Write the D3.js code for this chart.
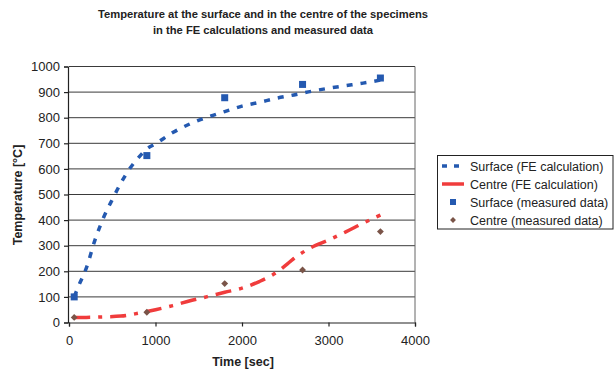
<!DOCTYPE html>
<html><head><meta charset="utf-8">
<script src="https://cdn.jsdelivr.net/npm/d3@7"></script>
<style>body{margin:0;background:#fff}svg{display:block}</style>
</head><body>
<svg id="c" width="614" height="370"></svg>
<script>
const xTicks = [0, 1000, 2000, 3000, 4000];
const yTicks = [0, 100, 200, 300, 400, 500, 600, 700, 800, 900, 1000];

const surfFE_t = [60, 120, 200, 300, 400, 500, 600, 700, 800, 900, 1000, 1200, 1400, 1600, 1800, 2000, 2200, 2400, 2600, 2800, 3000, 3200, 3400, 3600];
const surfFE_T = [100, 150, 212, 322, 410, 480, 545, 600, 643, 678, 698, 742, 776, 802, 824, 845, 860, 876, 889, 903, 915, 925, 935, 947];

const centFE_t = [60, 200, 400, 600, 800, 1000, 1200, 1400, 1600, 1800, 2000, 2200, 2400, 2500, 2600, 2800, 3000, 3200, 3400, 3600];
const centFE_T = [20, 20, 22, 25, 36, 50, 66, 85, 101, 118, 134, 160, 196, 222, 250, 293, 322, 354, 388, 420];

const surfMeas_t = [60, 900, 1800, 2700, 3600];
const surfMeas_T = [100, 652, 878, 930, 955];

const centMeas_t = [60, 900, 1800, 2700, 3600];
const centMeas_T = [20, 40, 152, 205, 355];

const legendLabels = ["Surface (FE calculation)", "Centre (FE calculation)", "Surface (measured data)", "Centre (measured data)"];

const blue = "#2459b0", red = "#f03c3c", brown = "#7a5448";
const svg = d3.select("#c");
const x = d3.scaleLinear().domain([0, 4000]).range([69, 415]);
const y = d3.scaleLinear().domain([0, 1000]).range([322.5, 66.5]);
const font = "Liberation Sans, Arial, sans-serif";

// title
svg.append("text").attr("x", 263).attr("y", 18).attr("text-anchor", "middle")
  .attr("font-family", font).attr("font-weight", "bold").attr("font-size", 11.2).attr("fill", "#222")
  .text("Temperature at the surface and in the centre of the specimens");
svg.append("text").attr("x", 263).attr("y", 34).attr("text-anchor", "middle")
  .attr("font-family", font).attr("font-weight", "bold").attr("font-size", 11.2).attr("fill", "#222")
  .text("in the FE calculations and measured data");

// grid
svg.append("g").selectAll("line").data(yTicks.filter(d => d > 0)).join("line")
  .attr("x1", x(0)).attr("x2", x(4000)).attr("y1", d => y(d)).attr("y2", d => y(d))
  .attr("stroke", "#3a3a3a").attr("stroke-width", 1);
// right border
svg.append("line").attr("x1", x(4000)).attr("x2", x(4000)).attr("y1", y(1000)).attr("y2", y(0))
  .attr("stroke", "#666").attr("stroke-width", 1);

// axes
const yAxis = svg.append("g").attr("transform", `translate(${x(0) - 1},0)`)
  .call(d3.axisLeft(y).tickValues(yTicks).tickSize(4).tickPadding(4).tickFormat(d3.format("d")));
const xAxis = svg.append("g").attr("transform", `translate(0,${y(0)})`)
  .call(d3.axisBottom(x).tickValues(xTicks).tickSize(4).tickPadding(9).tickFormat(d3.format("d")));
[yAxis, xAxis].forEach(a => {
  a.selectAll("path,line").attr("stroke", "#222").attr("stroke-width", 1.2);
  a.selectAll("text").attr("font-family", font).attr("font-size", 13).attr("fill", "#222");
});

// axis titles
svg.append("text").attr("transform", "translate(22,195) rotate(-90)").attr("text-anchor", "middle")
  .attr("font-family", font).attr("font-weight", "bold").attr("font-size", 12.5).attr("fill", "#222")
  .text("Temperature [°C]");
svg.append("text").attr("x", 243).attr("y", 366).attr("text-anchor", "middle")
  .attr("font-family", font).attr("font-weight", "bold").attr("font-size", 12.5).attr("fill", "#222")
  .text("Time [sec]");

// lines
const line = d3.line().curve(d3.curveMonotoneX).x(d => x(d[0])).y(d => y(d[1]));
svg.append("path").datum(surfFE_t.map((t, i) => [t, surfFE_T[i]]))
  .attr("d", line).attr("fill", "none").attr("stroke", blue).attr("stroke-width", 3.5)
  .attr("stroke-dasharray", "6,8");
svg.append("path").datum(centFE_t.map((t, i) => [t, centFE_T[i]]))
  .attr("d", line).attr("fill", "none").attr("stroke", red).attr("stroke-width", 3.5)
  .attr("stroke-dasharray", "16,8,4,8");

// measured points
svg.append("g").selectAll("rect").data(surfMeas_t.map((t, i) => [t, surfMeas_T[i]])).join("rect")
  .attr("x", d => x(d[0]) - 3.5).attr("y", d => y(d[1]) - 3.5).attr("width", 7).attr("height", 7)
  .attr("fill", blue);
svg.append("g").selectAll("path").data(centMeas_t.map((t, i) => [t, centMeas_T[i]])).join("path")
  .attr("transform", d => `translate(${x(d[0])},${y(d[1])})`)
  .attr("d", d3.symbol(d3.symbolDiamond2, 30)).attr("fill", brown);

// legend
const lg = svg.append("g");
lg.append("rect").attr("x", 437.5).attr("y", 155.5).attr("width", 175.5).attr("height", 73.5)
  .attr("fill", "#fff").attr("stroke", "#222").attr("stroke-width", 1);
const ly = [166, 184, 202, 220];
lg.append("line").attr("x1", 442).attr("x2", 464).attr("y1", ly[0]).attr("y2", ly[0])
  .attr("stroke", blue).attr("stroke-width", 3.5).attr("stroke-dasharray", "5,7");
lg.append("line").attr("x1", 442).attr("x2", 464).attr("y1", ly[1]).attr("y2", ly[1])
  .attr("stroke", red).attr("stroke-width", 3.5);
lg.append("rect").attr("x", 450).attr("y", ly[2] - 3).attr("width", 6).attr("height", 6).attr("fill", blue);
lg.append("path").attr("transform", `translate(453,${ly[3]})`).attr("d", d3.symbol(d3.symbolDiamond2, 22)).attr("fill", brown);
lg.selectAll("text").data(legendLabels).join("text")
  .attr("x", 470).attr("y", (d, i) => ly[i] + 4.5)
  .attr("font-family", font).attr("font-size", 12.5).attr("fill", "#222").text(d => d);
</script>
</body></html>
